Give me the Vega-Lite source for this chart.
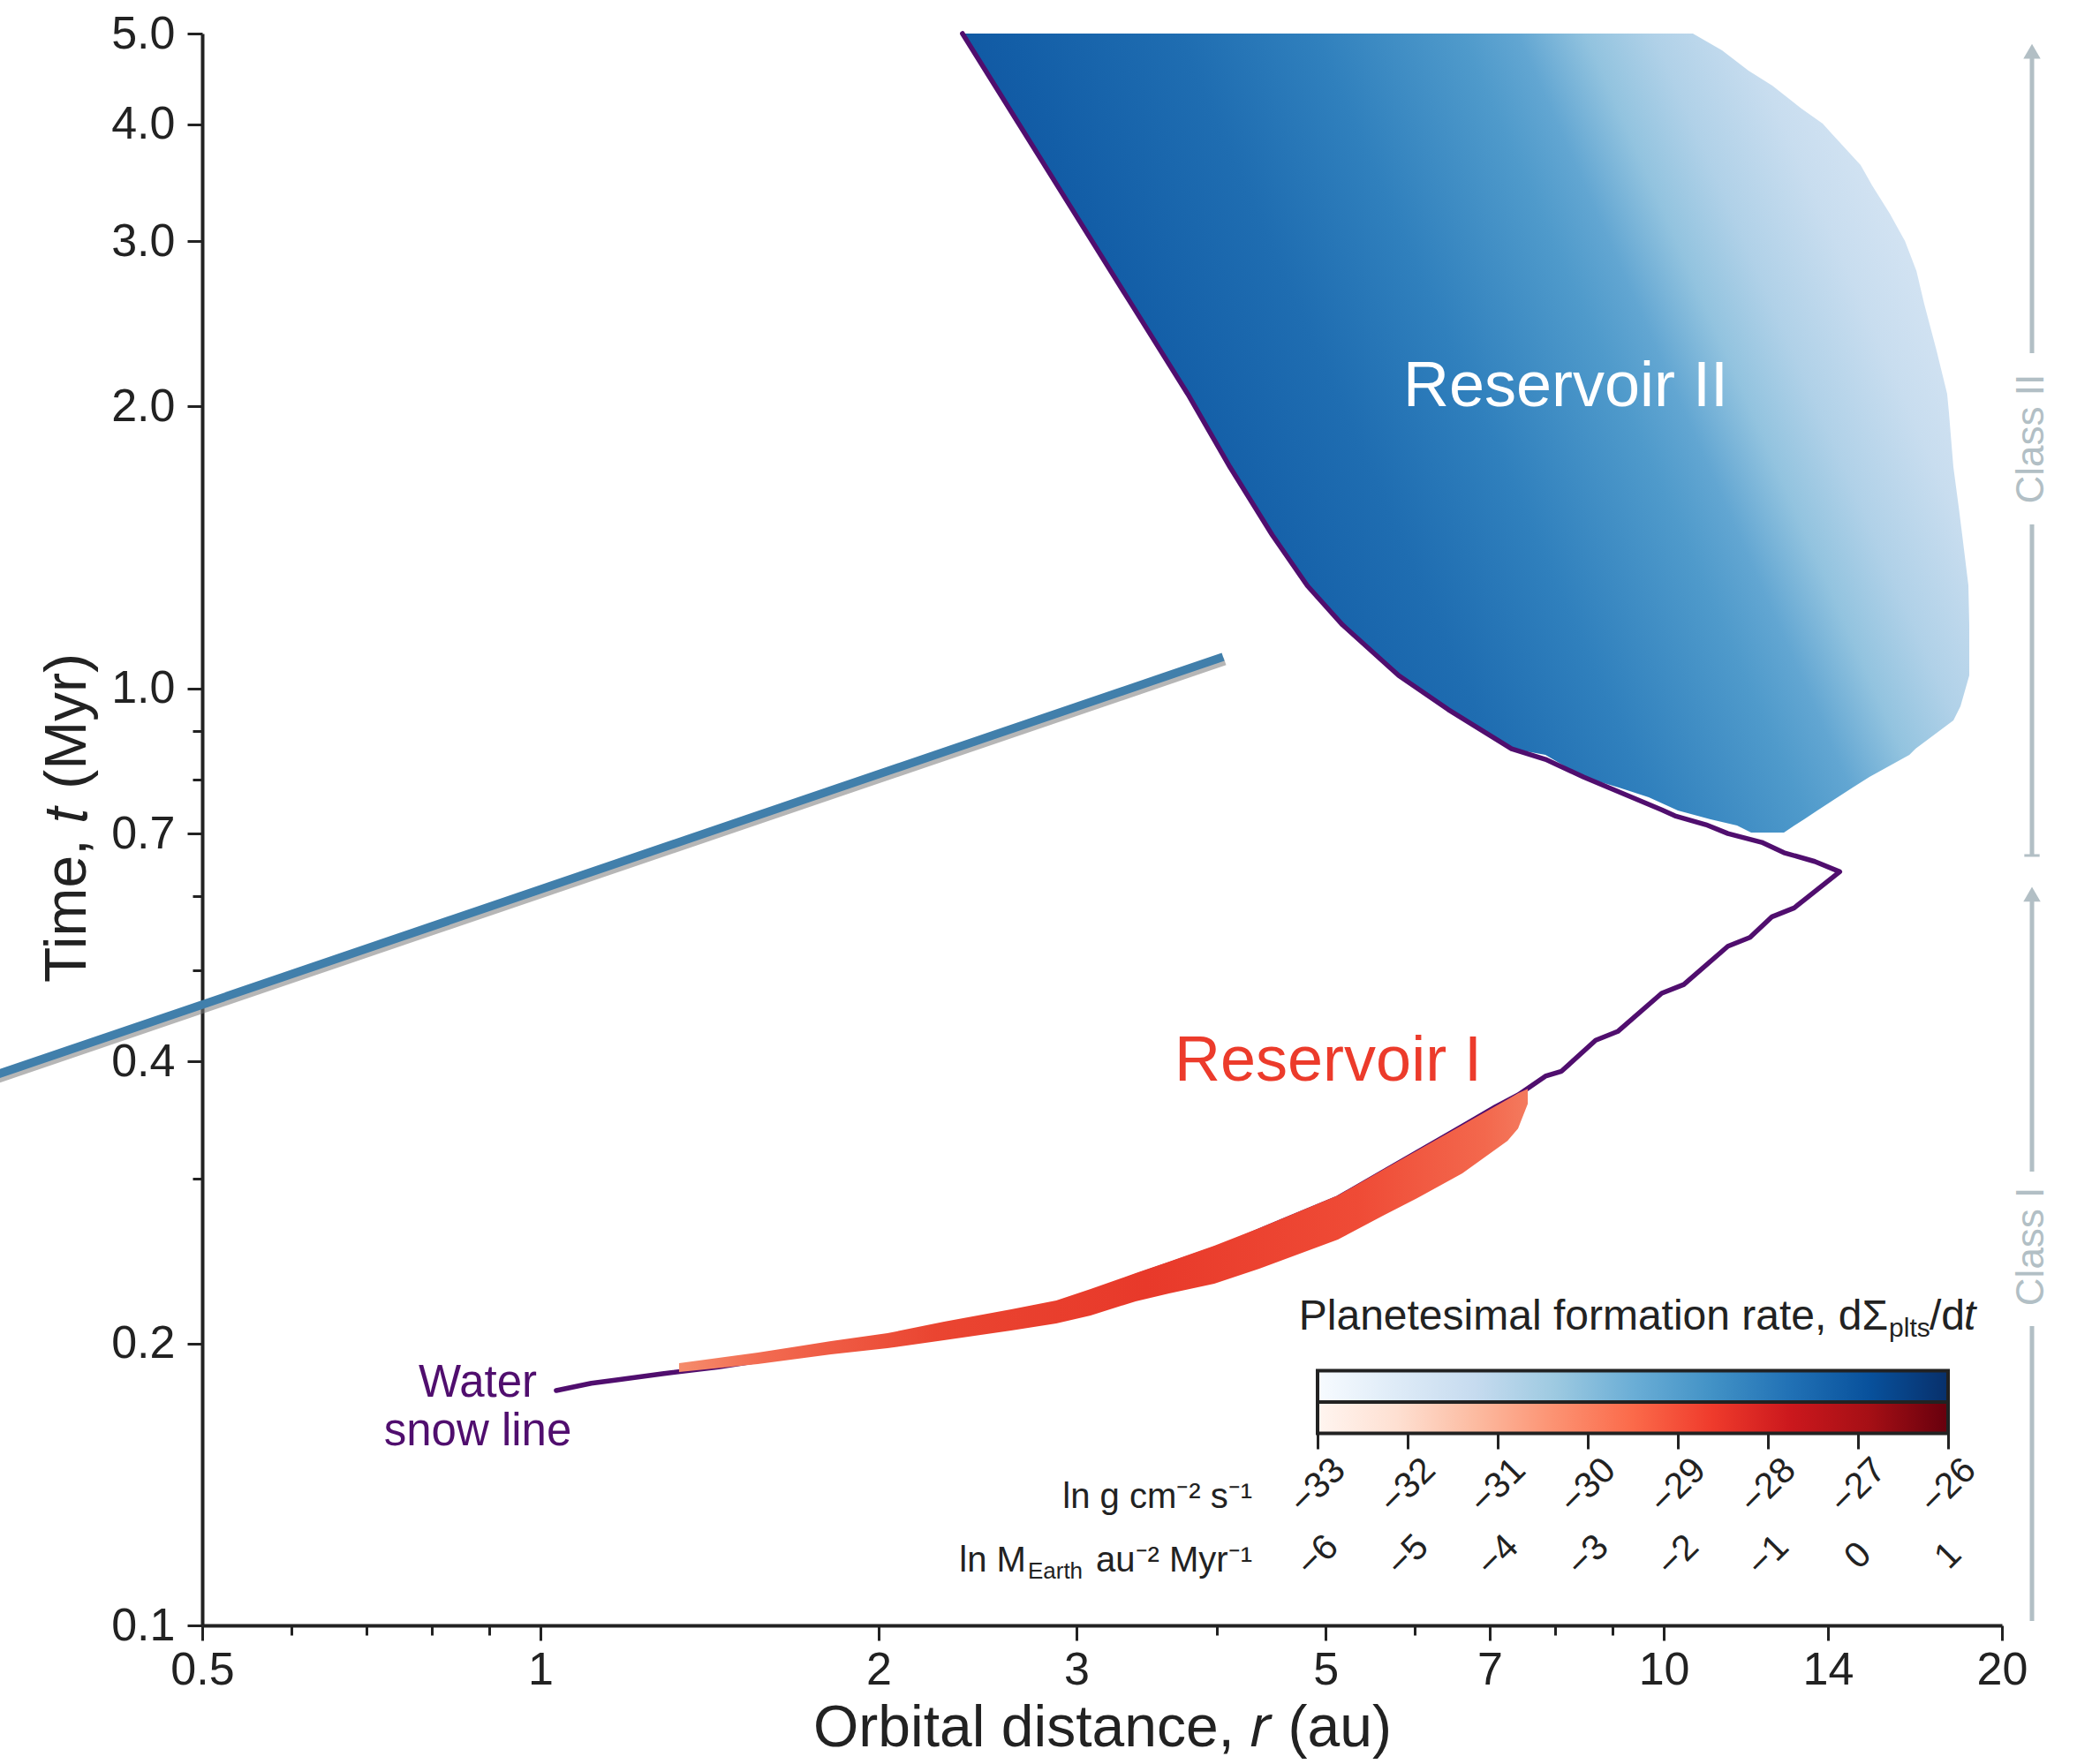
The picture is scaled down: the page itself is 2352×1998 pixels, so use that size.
{
  "$schema": "https://vega.github.io/schema/vega-lite/v6.json",
  "width": 2038,
  "height": 1803,
  "autosize": {"type": "none"},
  "padding": {"left": 229, "top": 38, "right": 85, "bottom": 157},
  "background": "white",
  "config": {"font": "Liberation Sans", "view": {"stroke": null}},
  "datasets": {
    "snow": [
      {"i":1,"r":1.033,"t":0.1781},{"i":2,"r":1.110,"t":0.1813},{"i":3,"r":1.173,"t":0.1829},{"i":4,"r":1.284,"t":0.1856},
      {"i":5,"r":1.441,"t":0.1887},{"i":6,"r":1.713,"t":0.1950},{"i":7,"r":2.037,"t":0.2021},{"i":8,"r":2.423,"t":0.2111},
      {"i":9,"r":2.881,"t":0.2197},{"i":10,"r":3.424,"t":0.2370},{"i":11,"r":4.074,"t":0.2547},{"i":12,"r":4.571,"t":0.2699},
      {"i":13,"r":5.130,"t":0.2860},{"i":14,"r":5.757,"t":0.3097},{"i":15,"r":6.462,"t":0.3354},{"i":16,"r":7.088,"t":0.3579},
      {"i":17,"r":7.423,"t":0.3684},{"i":18,"r":7.846,"t":0.3856},{"i":19,"r":8.110,"t":0.3904},{"i":20,"r":8.697,"t":0.4212},
      {"i":21,"r":9.099,"t":0.4304},{"i":22,"r":9.958,"t":0.4728},{"i":23,"r":10.419,"t":0.4831},{"i":24,"r":11.405,"t":0.5307},
      {"i":25,"r":11.933,"t":0.5423},{"i":26,"r":12.485,"t":0.5706},{"i":27,"r":13.063,"t":0.5831},{"i":28,"r":14.343,"t":0.6373},
      {"i":29,"r":13.627,"t":0.6536},{"i":30,"r":12.793,"t":0.6679},{"i":31,"r":12.224,"t":0.6851},{"i":32,"r":11.405,"t":0.7001},
      {"i":33,"r":10.901,"t":0.7155},{"i":34,"r":10.232,"t":0.7312},{"i":35,"r":9.958,"t":0.7420},{"i":36,"r":8.489,"t":0.8042},
      {"i":37,"r":7.846,"t":0.8401},{"i":38,"r":7.320,"t":0.8621},{"i":39,"r":6.427,"t":0.9496},{"i":40,"r":5.810,"t":1.032},
      {"i":41,"r":5.177,"t":1.169},{"i":42,"r":4.817,"t":1.287},{"i":43,"r":4.482,"t":1.458},{"i":44,"r":4.111,"t":1.722},
      {"i":45,"r":3.769,"t":2.062},{"i":46,"r":3.358,"t":2.572},{"i":47,"r":2.992,"t":3.209},{"i":48,"r":2.666,"t":4.005},
      {"i":49,"r":2.375,"t":5.0}
    ],
    "res2": [
      {"t":0.7016,"rl":11.961,"rr":12.793},{"t":0.7140,"rl":11.620,"rr":13.070},{"t":0.7249,"rl":11.006,"rr":13.333},
      {"t":0.7408,"rl":10.293,"rr":13.700},{"t":0.7654,"rl":9.696,"rr":14.283},{"t":0.7839,"rl":9.120,"rr":14.729},
      {"t":0.8044,"rl":8.480,"rr":15.244},{"t":0.8494,"rl":7.846,"rr":16.544},{"t":0.8625,"rl":7.324,"rr":16.755},
      {"t":0.9244,"rl":6.664,"rr":18.105},{"t":0.9571,"rl":6.367,"rr":18.370},{"t":1.0326,"rl":5.809,"rr":18.705},
      {"t":1.1685,"rl":5.174,"rr":18.705},{"t":1.2883,"rl":4.813,"rr":18.671},{"t":1.4581,"rl":4.485,"rr":18.436},
      {"t":1.5628,"rl":4.323,"rr":18.303},{"t":1.7227,"rl":4.112,"rr":18.105},{"t":1.9712,"rl":3.851,"rr":17.940},
      {"t":2.0631,"rl":3.769,"rr":17.875},{"t":2.2948,"rl":3.565,"rr":17.491},{"t":2.5745,"rl":3.357,"rr":17.053},
      {"t":2.7894,"rl":3.219,"rr":16.786},{"t":3.0026,"rl":3.098,"rr":16.395},{"t":3.2110,"rl":2.990,"rr":15.894},
      {"t":3.4434,"rl":2.885,"rr":15.327},{"t":3.6196,"rl":2.811,"rr":14.971},{"t":3.9210,"rl":2.696,"rr":14.078},
      {"t":4.0070,"rl":2.668,"rr":13.851},{"t":4.1571,"rl":2.615,"rr":13.261},{"t":4.3985,"rl":2.540,"rr":12.492},
      {"t":4.5638,"rl":2.493,"rr":11.896},{"t":4.7983,"rl":2.429,"rr":11.268},{"t":5.0,"rl":2.376,"rr":10.615}
    ],
    "res1": [
      {"r":1.3287,"th":0.19049,"tl":0.18640},{"r":1.5613,"th":0.19548,"tl":0.19007},{"r":1.8144,"th":0.20107,"tl":0.19466},
      {"r":2.0370,"th":0.20503,"tl":0.19764},{"r":2.2872,"th":0.21090,"tl":0.20153},{"r":2.6250,"th":0.21740,"tl":0.20645},
      {"r":2.8788,"th":0.22217,"tl":0.21007},{"r":3.0888,"th":0.22853,"tl":0.21421},{"r":3.3874,"th":0.23763,"tl":0.22176},
      {"r":3.6282,"th":0.24442,"tl":0.22613},{"r":3.9797,"th":0.25416,"tl":0.23158},{"r":4.3645,"th":0.26544,"tl":0.24021},
      {"r":5.1273,"th":0.28767,"tl":0.25806},{"r":5.6232,"th":0.30633,"tl":0.27369},{"r":6.0343,"th":0.32130,"tl":0.28579},
      {"r":6.6172,"th":0.34209,"tl":0.30369},{"r":7.2587,"th":0.36432,"tl":0.32898},{"r":7.4182,"th":0.36990,"tl":0.33913},
      {"r":7.5674,"th":0.37393,"tl":0.36039}
    ],
    "streak": [{"r":0.3129,"t":0.3797},{"r":4.0525,"t":1.0807}],
    "classrules": [
      {"r":21.27,"t1":4.8185,"t2":2.2796},{"r":21.27,"t1":1.4963,"t2":0.6633},
      {"r":21.27,"t1":0.6069,"t2":0.3050},{"r":21.27,"t1":0.2087,"t2":0.1011}
    ],
    "classheads": [{"r":21.27,"t":4.786},{"r":21.27,"t":0.603}],
    "classcap": [{"r":21.27,"t":0.6633}],
    "classtext": [{"r":21.27,"t":1.8466,"label":"Class II"},{"r":21.27,"t":0.2537,"label":"Class I"}],
    "notes": [
      {"key":"res2","label":"Reservoir II","r":8.179,"t":2.0014},
      {"key":"res1","label":"Reservoir I","r":5.027,"t":0.3815},
      {"key":"snow","label":"Water\nsnow line","r":0.8795,"t":0.1754},
      {"key":"cbA","label":"Planetesimal formation rate, dΣ","r":15.837,"t":0.20689},
      {"key":"cbB","label":"plts","r":15.866,"t":0.20334},
      {"key":"cbC","label":"/d","r":17.238,"t":0.20689},
      {"key":"cbD","label":"t","r":18.503,"t":0.20689},
      {"key":"u1","label":"ln g cm⁻² s⁻¹","r":4.3017,"t":0.13340},
      {"key":"u2a","label":"ln M","r":2.7061,"t":0.11414},
      {"key":"u2b","label":"Earth","r":2.7159,"t":0.11218},
      {"key":"u2c","label":" au⁻² Myr⁻¹","r":4.3017,"t":0.11414}
    ],
    "cbar": [{"cmap":"Blues","lo":-33,"hi":-26},{"cmap":"Reds","lo":-33,"hi":-26}]
  },
  "layer": [
    {
      "data": {"name": "res2"},
      "mark": {"type": "area", "orient": "horizontal", "color": {"gradient": "linear", "x1": 0, "y1": 0.35, "x2": 1, "y2": 0,
        "stops": [
          {"offset": 0, "color": "#0d4f9c"}, {"offset": 0.15, "color": "#135ea7"}, {"offset": 0.3, "color": "#1f6db1"},
          {"offset": 0.42, "color": "#3080bd"}, {"offset": 0.55, "color": "#4f9acb"}, {"offset": 0.6, "color": "#62a6d2"},
          {"offset": 0.66, "color": "#92c3df"}, {"offset": 0.72, "color": "#b0d1e8"}, {"offset": 0.8, "color": "#c8ddef"},
          {"offset": 0.9, "color": "#d8e6f4"}, {"offset": 1, "color": "#e3edf8"}]}},
      "encoding": {
        "y": {"field": "t", "type": "quantitative",
          "scale": {"type": "log", "domain": [0.1, 5], "nice": false, "zero": false},
          "axis": {
            "orient": "left",
            "values": [0.1, 0.2, 0.4, 0.7, 1, 2, 3, 4, 5],
            "format": ".1f",
            "tickSize": 17,
            "title": "Time, 𝑡 (Myr)", "titleFontSize": 66, "titleFontWeight": "normal", "titleColor": "#222", "titlePadding": 15, "titleY": 888,
            "labelFontSize": 52, "labelColor": "#222", "labelPadding": 14,
            "domainColor": "#222", "domainWidth": 4, "tickColor": "#222", "tickWidth": 3,
            "grid": false, "labelOverlap": false
          }},
        "x": {"field": "rl", "type": "quantitative",
          "scale": {"type": "log", "domain": [0.5, 20], "nice": false, "zero": false},
          "axis": {
            "orient": "bottom",
            "values": [0.5, 1, 2, 3, 5, 7, 10, 14, 20],
            "format": "~g",
            "tickSize": 17,
            "title": "Orbital distance, 𝑟 (au)", "titleFontSize": 66, "titleFontWeight": "normal", "titleColor": "#222", "titlePadding": 8,
            "labelFontSize": 52, "labelColor": "#222", "labelPadding": 8, "labelFlush": false,
            "domainColor": "#222", "domainWidth": 4, "tickColor": "#222", "tickWidth": 3,
            "grid": false, "labelOverlap": false
          }},
        "x2": {"field": "rr"}
      }
    },
    {
      "data": {"name": "snow"},
      "mark": {"type": "line", "color": "#500e6e", "strokeWidth": 5.5, "strokeJoin": "round", "strokeCap": "round"},
      "encoding": {
        "x": {"field": "r", "type": "quantitative", "scale": {"type": "log", "domain": [0.5, 20], "nice": false, "zero": false},
          "axis": {"orient": "bottom", "values": [0.6, 0.7, 0.8, 0.9, 4, 6, 8, 9], "labels": false, "tickSize": 11, "tickWidth": 3, "tickColor": "#222", "domain": false, "grid": false, "title": null}},
        "y": {"field": "t", "type": "quantitative", "scale": {"type": "log", "domain": [0.1, 5], "nice": false, "zero": false},
          "axis": {"orient": "left", "values": [0.3, 0.5, 0.6, 0.8, 0.9], "labels": false, "tickSize": 11, "tickWidth": 3, "tickColor": "#222", "domain": false, "grid": false, "title": null}},
        "order": {"field": "i", "type": "quantitative"}
      }
    },
    {
      "data": {"name": "res1"},
      "mark": {"type": "area", "orient": "vertical", "color": {"gradient": "linear", "x1": 0, "y1": 0, "x2": 1, "y2": 0,
        "stops": [
          {"offset": 0, "color": "#f58c6c"}, {"offset": 0.1, "color": "#f26a50"}, {"offset": 0.3, "color": "#ea4531"},
          {"offset": 0.55, "color": "#e8392a"}, {"offset": 0.8, "color": "#ef4b36"}, {"offset": 0.95, "color": "#f3684d"},
          {"offset": 1, "color": "#f47a5e"}]}},
      "encoding": {
        "x": {"field": "r", "type": "quantitative", "scale": {"type": "log", "domain": [0.5, 20], "nice": false, "zero": false}, "axis": null},
        "y": {"field": "th", "type": "quantitative", "scale": {"type": "log", "domain": [0.1, 5], "nice": false, "zero": false}, "axis": null},
        "y2": {"field": "tl"}
      }
    },
    {
      "data": {"name": "streak"},
      "mark": {"type": "line", "color": "#7a7a7a", "opacity": 0.55, "strokeWidth": 9, "strokeCap": "butt", "yOffset": 5, "xOffset": 2},
      "encoding": {
        "x": {"field": "r", "type": "quantitative", "scale": {"type": "log", "domain": [0.5, 20], "nice": false, "zero": false}, "axis": null},
        "y": {"field": "t", "type": "quantitative", "scale": {"type": "log", "domain": [0.1, 5], "nice": false, "zero": false}, "axis": null}
      }
    },
    {
      "data": {"name": "streak"},
      "mark": {"type": "line", "color": "#417fab", "strokeWidth": 9.5, "strokeCap": "butt"},
      "encoding": {
        "x": {"field": "r", "type": "quantitative", "scale": {"type": "log", "domain": [0.5, 20], "nice": false, "zero": false}, "axis": null},
        "y": {"field": "t", "type": "quantitative", "scale": {"type": "log", "domain": [0.1, 5], "nice": false, "zero": false}, "axis": null}
      }
    },
    {
      "data": {"name": "classrules"},
      "mark": {"type": "rule", "color": "#b2bfc5", "strokeWidth": 5},
      "encoding": {
        "x": {"field": "r", "type": "quantitative", "scale": {"type": "log", "domain": [0.5, 20], "nice": false, "zero": false}, "axis": null},
        "y": {"field": "t1", "type": "quantitative", "scale": {"type": "log", "domain": [0.1, 5], "nice": false, "zero": false}, "axis": null},
        "y2": {"field": "t2"}
      }
    },
    {
      "data": {"name": "classheads"},
      "mark": {"type": "point", "shape": "triangle-up", "filled": true, "color": "#b2bfc5", "size": 380, "opacity": 1},
      "encoding": {
        "x": {"field": "r", "type": "quantitative", "scale": {"type": "log", "domain": [0.5, 20], "nice": false, "zero": false}, "axis": null},
        "y": {"field": "t", "type": "quantitative", "scale": {"type": "log", "domain": [0.1, 5], "nice": false, "zero": false}, "axis": null}
      }
    },
    {
      "data": {"name": "classcap"},
      "mark": {"type": "point", "shape": "M -1 0 L 1 0", "filled": false, "color": "#b2bfc5", "size": 300, "strokeWidth": 3, "opacity": 1},
      "encoding": {
        "x": {"field": "r", "type": "quantitative", "scale": {"type": "log", "domain": [0.5, 20], "nice": false, "zero": false}, "axis": null},
        "y": {"field": "t", "type": "quantitative", "scale": {"type": "log", "domain": [0.1, 5], "nice": false, "zero": false}, "axis": null}
      }
    },
    {
      "data": {"name": "classtext"},
      "mark": {"type": "text", "angle": 270, "align": "center", "baseline": "middle", "fontSize": 44, "color": "#b2bfc5"},
      "encoding": {
        "x": {"field": "r", "type": "quantitative", "scale": {"type": "log", "domain": [0.5, 20], "nice": false, "zero": false}, "axis": null},
        "y": {"field": "t", "type": "quantitative", "scale": {"type": "log", "domain": [0.1, 5], "nice": false, "zero": false}, "axis": null},
        "text": {"field": "label"}
      }
    },
    {
      "data": {"name": "notes"},
      "transform": [{"filter": "datum.key == 'res2'"}],
      "mark": {"type": "text", "align": "center", "baseline": "alphabetic", "fontSize": 72, "color": "white"},
      "encoding": {
        "x": {"field": "r", "type": "quantitative", "scale": {"type": "log", "domain": [0.5, 20], "nice": false, "zero": false}, "axis": null},
        "y": {"field": "t", "type": "quantitative", "scale": {"type": "log", "domain": [0.1, 5], "nice": false, "zero": false}, "axis": null},
        "text": {"field": "label"}
      }
    },
    {
      "data": {"name": "notes"},
      "transform": [{"filter": "datum.key == 'res1'"}],
      "mark": {"type": "text", "align": "center", "baseline": "alphabetic", "fontSize": 72, "color": "#ec3b2b"},
      "encoding": {
        "x": {"field": "r", "type": "quantitative", "scale": {"type": "log", "domain": [0.5, 20], "nice": false, "zero": false}, "axis": null},
        "y": {"field": "t", "type": "quantitative", "scale": {"type": "log", "domain": [0.1, 5], "nice": false, "zero": false}, "axis": null},
        "text": {"field": "label"}
      }
    },
    {
      "data": {"name": "notes"},
      "transform": [{"filter": "datum.key == 'snow'"}],
      "mark": {"type": "text", "align": "center", "baseline": "alphabetic", "fontSize": 51, "color": "#500e6e", "lineBreak": "\n", "lineHeight": 55},
      "encoding": {
        "x": {"field": "r", "type": "quantitative", "scale": {"type": "log", "domain": [0.5, 20], "nice": false, "zero": false}, "axis": null},
        "y": {"field": "t", "type": "quantitative", "scale": {"type": "log", "domain": [0.1, 5], "nice": false, "zero": false}, "axis": null},
        "text": {"field": "label"}
      }
    },
    {
      "data": {"name": "notes"},
      "transform": [{"filter": "datum.key == 'cbA'"}],
      "mark": {"type": "text", "align": "right", "baseline": "alphabetic", "fontSize": 48, "color": "#222"},
      "encoding": {
        "x": {"field": "r", "type": "quantitative", "scale": {"type": "log", "domain": [0.5, 20], "nice": false, "zero": false}, "axis": null},
        "y": {"field": "t", "type": "quantitative", "scale": {"type": "log", "domain": [0.1, 5], "nice": false, "zero": false}, "axis": null},
        "text": {"field": "label"}
      }
    },
    {
      "data": {"name": "notes"},
      "transform": [{"filter": "datum.key == 'cbB'"}],
      "mark": {"type": "text", "align": "left", "baseline": "alphabetic", "fontSize": 30, "color": "#222"},
      "encoding": {
        "x": {"field": "r", "type": "quantitative", "scale": {"type": "log", "domain": [0.5, 20], "nice": false, "zero": false}, "axis": null},
        "y": {"field": "t", "type": "quantitative", "scale": {"type": "log", "domain": [0.1, 5], "nice": false, "zero": false}, "axis": null},
        "text": {"field": "label"}
      }
    },
    {
      "data": {"name": "notes"},
      "transform": [{"filter": "datum.key == 'cbC'"}],
      "mark": {"type": "text", "align": "left", "baseline": "alphabetic", "fontSize": 48, "color": "#222"},
      "encoding": {
        "x": {"field": "r", "type": "quantitative", "scale": {"type": "log", "domain": [0.5, 20], "nice": false, "zero": false}, "axis": null},
        "y": {"field": "t", "type": "quantitative", "scale": {"type": "log", "domain": [0.1, 5], "nice": false, "zero": false}, "axis": null},
        "text": {"field": "label"}
      }
    },
    {
      "data": {"name": "notes"},
      "transform": [{"filter": "datum.key == 'cbD'"}],
      "mark": {"type": "text", "align": "left", "baseline": "alphabetic", "fontSize": 48, "fontStyle": "italic", "color": "#222"},
      "encoding": {
        "x": {"field": "r", "type": "quantitative", "scale": {"type": "log", "domain": [0.5, 20], "nice": false, "zero": false}, "axis": null},
        "y": {"field": "t", "type": "quantitative", "scale": {"type": "log", "domain": [0.1, 5], "nice": false, "zero": false}, "axis": null},
        "text": {"field": "label"}
      }
    },
    {
      "data": {"name": "notes"},
      "transform": [{"filter": "datum.key == 'u1' || datum.key == 'u2c' || datum.key == 'u2a'"}],
      "mark": {"type": "text", "align": "right", "baseline": "alphabetic", "fontSize": 40, "color": "#222"},
      "encoding": {
        "x": {"field": "r", "type": "quantitative", "scale": {"type": "log", "domain": [0.5, 20], "nice": false, "zero": false}, "axis": null},
        "y": {"field": "t", "type": "quantitative", "scale": {"type": "log", "domain": [0.1, 5], "nice": false, "zero": false}, "axis": null},
        "text": {"field": "label"}
      }
    },
    {
      "data": {"name": "notes"},
      "transform": [{"filter": "datum.key == 'u2b'"}],
      "mark": {"type": "text", "align": "left", "baseline": "alphabetic", "fontSize": 26, "color": "#222"},
      "encoding": {
        "x": {"field": "r", "type": "quantitative", "scale": {"type": "log", "domain": [0.5, 20], "nice": false, "zero": false}, "axis": null},
        "y": {"field": "t", "type": "quantitative", "scale": {"type": "log", "domain": [0.1, 5], "nice": false, "zero": false}, "axis": null},
        "text": {"field": "label"}
      }
    },
    {
      "data": {"name": "cbar"},
      "transform": [{"filter": "datum.cmap == 'Blues'"}],
      "mark": {"type": "rect", "fill": {"gradient": "linear", "x1": 0, "y1": 0, "x2": 1, "y2": 0,
        "stops": [
          {"offset": 0, "color": "#f7fbff"}, {"offset": 0.125, "color": "#deebf7"}, {"offset": 0.25, "color": "#c6dbef"},
          {"offset": 0.375, "color": "#9ecae1"}, {"offset": 0.5, "color": "#6baed6"}, {"offset": 0.625, "color": "#4292c6"},
          {"offset": 0.75, "color": "#2171b5"}, {"offset": 0.875, "color": "#08519c"}, {"offset": 1, "color": "#08306b"}]},
        "stroke": "#222", "strokeWidth": 4},
      "encoding": {
        "x": {"field": "lo", "type": "quantitative", "scale": {"type": "linear", "domain": [-33, -26], "range": [1263, 1977], "nice": false, "zero": false}, "axis": null},
        "x2": {"field": "hi"},
        "y": {"field": "cmap", "type": "nominal", "scale": {"type": "band", "domain": ["Blues", "Reds"], "range": [1514.5, 1585.5], "paddingInner": 0, "paddingOuter": 0}, "axis": null}
      }
    },
    {
      "data": {"name": "cbar"},
      "transform": [{"filter": "datum.cmap == 'Reds'"}],
      "mark": {"type": "rect", "fill": {"gradient": "linear", "x1": 0, "y1": 0, "x2": 1, "y2": 0,
        "stops": [
          {"offset": 0, "color": "#fff5f0"}, {"offset": 0.125, "color": "#fee0d2"}, {"offset": 0.25, "color": "#fcbba1"},
          {"offset": 0.375, "color": "#fc9272"}, {"offset": 0.5, "color": "#fb6a4a"}, {"offset": 0.625, "color": "#ef3b2c"},
          {"offset": 0.75, "color": "#cb181d"}, {"offset": 0.875, "color": "#a50f15"}, {"offset": 1, "color": "#67000d"}]},
        "stroke": "#222", "strokeWidth": 4},
      "encoding": {
        "x": {"field": "lo", "type": "quantitative", "scale": {"type": "linear", "domain": [-33, -26], "range": [1263, 1977], "nice": false, "zero": false},
          "axis": {"orient": "bottom", "offset": -217, "values": [-33, -32, -31, -30, -29, -28, -27, -26], "format": "d",
            "tickSize": 17, "tickWidth": 3, "tickColor": "#222", "domain": false, "grid": false,
            "labelAngle": -45, "labelAlign": "center", "labelBaseline": "middle", "labelPadding": 42,
            "labelFontSize": 41, "labelColor": "#222", "labelFlush": false, "labelOverlap": false, "title": null}},
        "x2": {"field": "hi"},
        "y": {"field": "cmap", "type": "nominal", "scale": {"type": "band", "domain": ["Blues", "Reds"], "range": [1514.5, 1585.5], "paddingInner": 0, "paddingOuter": 0}, "axis": null}
      }
    },
    {
      "data": {"name": "cbar"},
      "transform": [{"filter": "datum.cmap == 'Reds'"}],
      "mark": {"type": "rect", "opacity": 0},
      "encoding": {
        "x": {"field": "lo", "type": "quantitative", "scale": {"type": "linear", "domain": [-33, -26], "range": [1263, 1977], "nice": false, "zero": false},
          "axis": {"orient": "bottom", "offset": -217, "values": [-33, -32, -31, -30, -29, -28, -27, -26],
            "labelExpr": "format(datum.value + 27, 'd')",
            "ticks": false, "tickSize": 0, "domain": false, "grid": false,
            "labelAngle": -45, "labelAlign": "center", "labelBaseline": "middle", "labelPadding": 138,
            "labelFontSize": 41, "labelColor": "#222", "labelFlush": false, "labelOverlap": false, "title": null}},
        "x2": {"field": "hi"},
        "y": {"field": "cmap", "type": "nominal", "scale": {"type": "band", "domain": ["Blues", "Reds"], "range": [1514.5, 1585.5], "paddingInner": 0, "paddingOuter": 0}, "axis": null}
      }
    }
  ],
  "resolve": {"scale": {"x": "independent", "y": "independent"}}
}
